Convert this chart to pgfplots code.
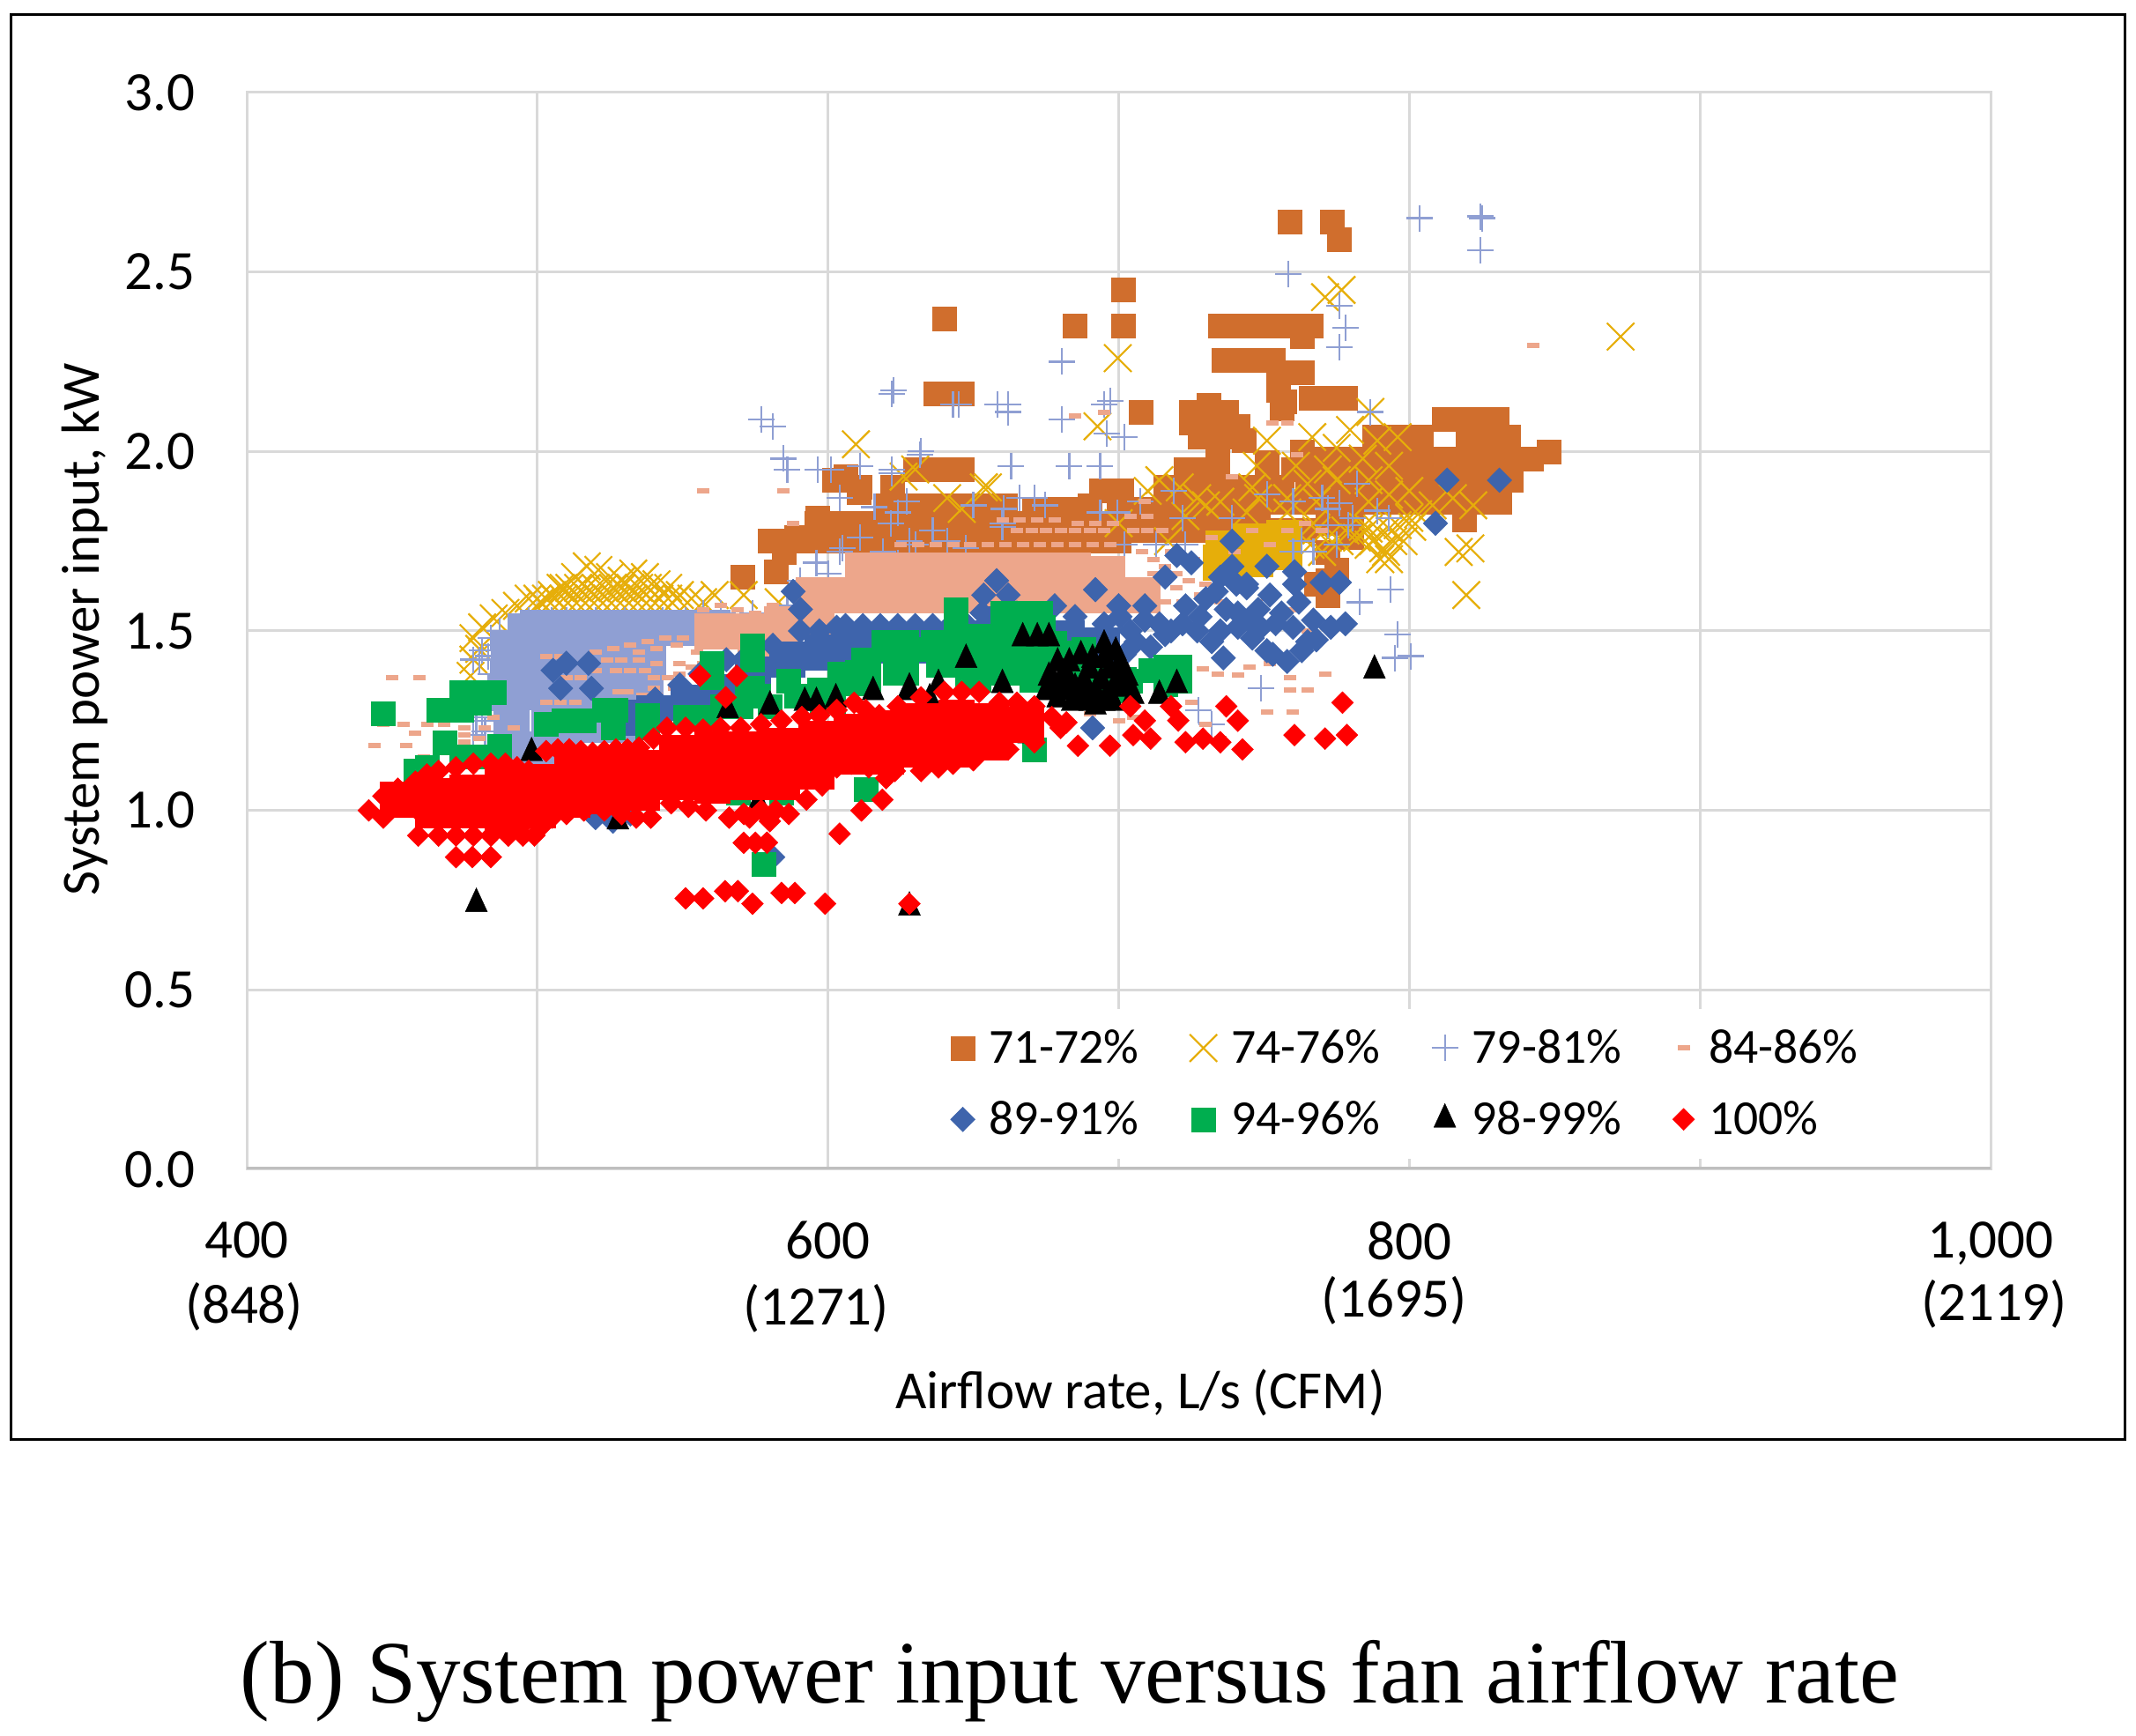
\documentclass[border=0pt]{standalone}
\usepackage{fontspec}
\setmainfont{Carlito}
\newfontfamily\capfont{Liberation Serif}
\usepackage{pgfplots}
\pgfplotsset{compat=1.18}
\definecolor{cOr}{HTML}{D06E2D}
\definecolor{cYe}{HTML}{E6AE0A}
\definecolor{cPe}{HTML}{8F9FD3}
\definecolor{cPc}{HTML}{EDA68B}
\definecolor{cBl}{HTML}{3E64AC}
\definecolor{cGr}{HTML}{00AE4F}
\definecolor{cGrid}{HTML}{D9D9D9}
\pgfplotsset{
  pt/.style={only marks, legend image code/.code={\draw[##1] plot coordinates {(0.1cm,0cm)};}},
  core/.style={only marks, forget plot, mark=square*, mark size=10bp, mark options={draw=#1, fill=#1, line width=0.2bp}},
}
\begin{document}
\begin{tikzpicture}
\path[use as bounding box] (0,0) rectangle (1212bp,985bp);
\begin{axis}[
  at={(140bp,321.5bp)}, anchor=south west,
  scale only axis, width=989.5bp, height=611bp,
  xmin=400, xmax=1000, ymin=0, ymax=3,
  xtick={400,500,600,700,800,900,1000},
  xticklabels={400,,600,,800,,{1,000}},
  ytick={0,0.5,1,1.5,2,2.5,3},
  yticklabels={0.0,0.5,1.0,1.5,2.0,2.5,3.0},
  major tick length=0pt,
  tick label style={font=\fontsize{31.5bp}{33bp}\selectfont, inner sep=0pt},
  yticklabel style={xshift=-29bp},
  xticklabel style={yshift=-29.5bp},
  grid=major, grid style={cGrid, line width=1.5bp},
  axis line style={cGrid, line width=1.5bp},
  legend columns=4,
  legend cell align=left,
  legend style={at={(0.3933,0.0097)}, anchor=south west, fill=white, draw=none,
    font=\fontsize{27.8bp}{29bp}\selectfont, inner sep=10bp, row sep=16bp,
    /tikz/every even column/.style={column sep=27bp},
    /tikz/every odd column/.append style={column sep=6bp}},
]
% 71-72%
\addplot[pt, mark=square*, mark size=6.75bp, mark options={draw=cOr, fill=cOr, line width=0.2bp}] coordinates {
(758.8,2.64)(773.4,2.64)(775.8,2.59)(701.7,2.45)(701.7,2.35)(684.9,2.35)(640,2.37)
(735,2.35)(741,2.35)(747,2.35)(753,2.35)(759,2.35)(766,2.35)(763,2.32)
(736,2.255)(742,2.255)(748,2.255)(753,2.255)(755,2.22)(763,2.22)(755,2.17)(756,2.12)(757,2.14)
(766,2.15)(772,2.15)(778,2.15)(707.5,2.11)(637,2.16)(642,2.16)(646,2.16)
(725,2.11)(731,2.13)(737,2.11)(725,2.08)(733,2.08)(741,2.07)(728,2.04)(735,2.04)(743,2.03)(734,2.00)(734,1.96)(734,1.92)(745,1.90)
(751,1.97)(763,2.0)(760,1.95)(768,1.95)
(812,2.09)(820,2.09)(825,2.09)(830,2.09)
(788,2.04)(796,2.04)(804,2.04)(820,2.04)(828,2.04)(834,2.04)
(770,1.98)(778,1.98)(786,1.98)(794,1.98)(802,1.98)(810,1.98)(818,1.98)(826,1.98)(834,1.98)(842,1.98)
(765,1.92)(773,1.92)(781,1.92)(789,1.92)(797,1.92)(805,1.92)(813,1.92)(821,1.92)(829,1.92)(835,1.92)
(755,1.86)(763,1.86)(771,1.86)(779,1.86)(787,1.86)(795,1.86)(803,1.86)(811,1.86)(819,1.86)(827,1.86)(831,1.86)
(819,1.81)(848,2.0)(835,1.95)
(723,1.95)(731,1.95)(716,1.90)(724,1.90)(732,1.90)(740,1.90)(748,1.90)(756,1.90)
(700,1.84)(708,1.84)(716,1.84)(724,1.84)(732,1.84)(740,1.84)(748,1.84)
(700,1.78)(708,1.78)(716,1.78)(724,1.78)(732,1.78)(740,1.78)(748,1.78)(756,1.78)(764,1.78)
(697,1.89)(694,1.89)(701,1.89)(690,1.85)(684,1.84)(676,1.84)(671,1.84)(661,1.85)
(600,1.80)(608,1.80)(616,1.80)(624,1.80)(632,1.80)(640,1.80)(648,1.80)(656,1.80)(664,1.80)(672,1.80)(680,1.80)(688,1.80)(696,1.80)
(580,1.75)(588,1.75)(596,1.75)(604,1.75)(612,1.75)(620,1.75)(628,1.75)(636,1.75)(644,1.75)(652,1.75)(660,1.75)(668,1.75)(676,1.75)(684,1.75)(692,1.75)(700,1.75)
(620,1.85)(628,1.85)(636,1.85)(644,1.85)(652,1.85)(660,1.85)
(630,1.95)(636,1.95)(642,1.95)(646,1.95)(622,1.89)
(596,1.80)(606,1.93)(602,1.92)(611,1.90)(610.5,1.885)(622,1.90)(596.4,1.815)(589,1.76)(584.7,1.72)(582,1.665)(570.6,1.65)
(775,1.67)(772,1.60)(768,1.63)(772,1.64)(772,1.72)(780,1.76)(772,1.80)(780,1.80)};
\addlegendentry{71-72\%}
% 74-76%
\addplot[core=cYe] coordinates {(735,1.69)(747,1.70)(757,1.72)(745,1.75)(736,1.73)(757,1.76)};
\addplot[pt, mark=x, mark size=11bp, mark options={cYe, line width=1.1bp}] coordinates {
(872.7,2.32)(699.7,2.26)(771,2.43)(776.7,2.45)(786.6,2.11)(819.6,1.60)(817,1.72)(821,1.73)(790,1.70)(792,1.72)(655,1.90)(692.7,2.07)(609.6,2.02)(653.6,1.90)
(751,2.03)(766.6,2.04)(779.6,2.06)(789,2.03)(796,2.04)(775,2.01)(784,1.98)(772,1.95)(761,1.96)(747.5,1.96)(793,1.96)(786,1.92)(775,1.92)(765,1.91)(746,1.90)(735,1.86)(727,1.87)(721,1.90)(800,1.89)(793,1.88)(786,1.86)(815,1.87)(822,1.85)(808,1.85)(768,1.86)(758,1.87)(748,1.87)(744,1.83)(758,1.83)(767,1.80)(784,1.79)(801,1.79)(798,1.75)(791,1.73)(786,1.74)(793,1.70)(730,1.85)(723,1.82)(714,1.92)(710,1.89)
(786,1.785)(789,1.785)(793,1.785)(796,1.795)(800,1.815)(803,1.825)(787.5,1.75)(794.5,1.75)
(772,1.76)(778,1.78)(770,1.72)(776,1.75)(782,1.76)(766,1.74)(768,1.78)
(478,1.48)(481,1.51)(485,1.535)(489,1.55)(493,1.57)(497,1.59)(501,1.58)(505,1.60)(509,1.62)(513,1.65)(517,1.68)(521,1.67)(525,1.65)(529,1.64)(533,1.66)(537,1.65)(541,1.63)(545,1.62)(549,1.60)(553,1.59)(557,1.58)(561,1.60)(571,1.60)(583,1.58)(597,1.60)
(500,1.59)(503,1.59)(506,1.59)(509,1.59)(512,1.59)(515,1.59)(518,1.59)(521,1.59)(524,1.59)(527,1.59)(530,1.59)(533,1.59)(536,1.59)(539,1.59)(542,1.59)(545,1.59)(548,1.59)
(508,1.62)(511,1.62)(514,1.62)(517,1.62)(520,1.62)(523,1.62)(526,1.62)(529,1.62)(532,1.62)(535,1.62)(538,1.62)
(477,1.375)(478,1.42)(480,1.45)(630,1.95)(626,1.93)(641,1.87)(646,1.84)(700,1.80)(717,1.75)};
\addlegendentry{74-76\%}
% 79-81%
\addplot[core=cPe] coordinates {(500,1.51)(512,1.51)(524,1.51)(536,1.51)(548,1.51)(560,1.51)(496,1.50)
(490,1.45)(502,1.42)(514,1.42)(526,1.42)(538,1.42)(490,1.38)(489,1.33)(501,1.33)(513,1.33)(525,1.33)(537,1.33)
(491,1.24)(504,1.24)(516,1.24)(528,1.24)(497,1.17)(509,1.17)};
\addplot[pt, mark=+, mark size=7.5bp, mark options={cPe, line width=1.1bp}] coordinates {
(803.5,2.65)(824.5,2.655)(825,2.65)(824.5,2.56)(758.4,2.495)(776,2.405)(778,2.345)(776,2.29)(680.5,2.25)(786.6,2.11)(622.6,2.17)(645,2.13)(643,2.13)(658.4,2.13)(662,2.13)(662,2.11)(697,2.14)(695,2.13)(680.5,2.09)(696,2.05)(702,2.04)(632,2.00)(663,1.96)(683,1.96)(693.6,1.96)(622,1.94)
(577,2.09)(581,2.07)(584.6,1.98)(586,1.95)(596.5,1.95)(601,1.95)(611,1.96)(622,1.95)(631.6,1.99)(622,2.16)(604,1.87)
(793.6,1.615)(783,1.58)(796,1.49)(795,1.425)(800.5,1.43)(749,1.34)(727.5,1.28)(732,1.24)
(604,1.72)(611,1.76)(616,1.845)(627,1.86)(621.6,1.80)(628,1.75)(596,1.69)(600,1.66)(590.5,1.64)(605,1.73)(619,1.72)(624,1.69)(611,1.68)
(624,1.83)(630,1.74)(636,1.78)(641,1.75)(647.5,1.73)(650,1.85)(660,1.80)(660.5,1.84)(666,1.87)(671,1.87)(674.6,1.85)(693.6,1.83)(699.6,1.83)(707.5,1.86)(719,1.89)(722,1.815)(702,1.74)(713,1.74)(723,1.74)(739,1.815)(751,1.88)(760,1.86)(770,1.87)(772,1.84)(772,1.795)(776,1.855)(782,1.91)(789,1.835)(793,1.815)(779,1.795)(760,1.72)(763,1.75)(775,1.74)(767,1.72)(780.5,1.815)(660,1.79)
(478,1.42)(480,1.42)(481,1.445)(479,1.25)(481,1.25)(478,1.21)(482,1.22)(479,1.26)
(484,1.48)(487,1.50)(483,1.43)(484,1.38)(484,1.33)(486,1.28)(487,1.22)(486,1.46)(485,1.36)(487,1.31)
(497,1.53)(505,1.53)(510,1.53)(520,1.53)(530,1.53)(543,1.53)(551,1.53)(557,1.55)(563,1.55)(568,1.53)(574,1.55)(580,1.53)(586,1.57)(592,1.60)};
\addlegendentry{79-81\%}
% 84-86%
\addplot[core=cPc] coordinates {(612,1.67)(624,1.67)(636,1.67)(648,1.67)(660,1.67)(672,1.67)(684,1.67)(696,1.66)
(605,1.60)(617,1.60)(629,1.60)(641,1.60)(653,1.60)(665,1.60)(677,1.60)(689,1.60)(701,1.60)(708,1.60)
(595,1.60)(560,1.50)(572,1.50)(584,1.52)(596,1.54)(575,1.45)};
\addplot[pt, mark=-, mark size=3.5bp, mark options={cPc, line width=3bp}] coordinates {
(450,1.37)(459.5,1.37)(447,1.24)(454,1.24)(462,1.24)(468,1.24)(458,1.215)(444,1.18)(455,1.18)(461,1.15)(557,1.89)(584.5,1.89)(588,1.80)
(503,1.43)(508,1.43)(535,1.44)(541,1.45)(548,1.46)(524,1.42)(529,1.42)(535,1.42)(541,1.41)(549,1.41)(527,1.39)(532,1.39)(540,1.37)(545,1.37)(528,1.33)(531,1.33)(536,1.32)(541,1.32)(515,1.37)(510,1.37)(540,1.34)(553,1.40)(557,1.41)(503,1.30)(508,1.30)(513,1.30)
(520,1.44)(526,1.45)(532,1.46)(538,1.47)(544,1.48)(550,1.48)(520,1.39)(537,1.39)(549,1.38)(555,1.44)(520,1.34)(547,1.34)
(485,1.26)(492,1.23)(482,1.23)(475,1.21)(480,1.2)(475,1.19)(475,1.23)
(557,1.56)(563,1.57)(569,1.56)(575,1.55)(581,1.57)(590,1.58)
(625,1.74)(631,1.74)(637,1.74)(643,1.74)(649,1.74)(655,1.74)(661,1.74)(667,1.74)(673,1.74)(679,1.74)(685,1.74)(691,1.74)(697,1.74)
(665,1.78)(670,1.78)(675,1.78)(680,1.78)(685,1.78)(690,1.78)(695,1.78)(705,1.78)(710,1.78)(715,1.78)
(660,1.81)(666,1.81)(672,1.81)(678,1.81)(686,1.80)(692,1.80)(698,1.80)(704,1.82)(710,1.82)
(709,1.86)(739,1.93)(761.4,1.99)(753,2.08)(758,2.08)(685,2.10)(695,2.11)(842.6,2.295)
(729,1.395)(734,1.38)(741,1.376)(759,1.37)(759,1.335)(765,1.335)(771,1.38)(751,1.275)(760,1.275)(745,1.40)(760,1.56)(751,1.59)(765,1.50)(752,1.41)
(720,1.72)(726,1.70)(732,1.76)(740,1.72)(746,1.78)(752,1.74)(758,1.78)(764,1.80)(770,1.78)
(712,1.70)(716,1.68)(720,1.66)(724,1.64)(720,1.62)(716,1.58)(722,1.58)(728,1.60)(730,1.63)(712,1.66)(718,1.72)(708,1.72)
(720,1.36)(725,1.30)(730,1.24)(735,1.20)(690,1.27)(700,1.25)(705,1.26)(735,1.58)(745,1.55)};
\addlegendentry{84-86\%}
% 89-91%
\addplot[core=cBl] coordinates {(610,1.46)(622,1.46)(634,1.46)(646,1.48)(658,1.52)(670,1.50)(682,1.48)(694,1.46)(598,1.44)(586,1.42)(574,1.38)(562,1.33)(552,1.30)(540,1.27)(530,1.26)};
\addplot[pt, mark=diamond*, mark size=7bp, mark options={draw=cBl, fill=cBl, line width=0.2bp, xscale=1.33}] coordinates {
(505.4,1.39)(510,1.41)(517.6,1.41)(508,1.34)(518.6,1.34)(549,1.35)(540.5,1.31)(556,1.38)(565,1.42)(572,1.43)(581,1.46)(588,1.61)(590.5,1.56)(590.5,1.50)(597,1.50)(603,1.51)
(606,1.515)(612,1.515)(618,1.515)(624,1.515)(630,1.515)(636,1.515)(642,1.515)(648,1.515)
(658,1.64)(653.6,1.60)(662,1.60)(653,1.55)(665,1.55)(678,1.57)(692,1.615)(685,1.54)(695,1.52)(700,1.57)(709,1.57)(709,1.53)(714,1.52)(706,1.47)(711,1.455)(702,1.435)(700.5,1.54)(693.6,1.48)
(723,1.57)(730,1.59)(728,1.54)(740.5,1.63)(744,1.63)(733.6,1.61)(745,1.53)(754,1.52)(749,1.51)(732,1.47)(736,1.425)(746,1.48)(753,1.435)(758,1.415)(751,1.445)(763,1.445)(768,1.475)(773,1.51)(778,1.52)(765,1.47)(756,1.55)
(720,1.71)(725,1.69)(716,1.65)(739,1.75)(739,1.68)(751,1.68)(760.5,1.665)(760.5,1.63)(770,1.635)(776,1.635)(744,1.62)(737,1.56)(718,1.50)
(735,1.50)(741,1.55)(741,1.51)(748,1.56)(760,1.51)(722,1.52)(716,1.49)(704,1.50)(727,1.50)(752,1.60)(735,1.65)(762,1.58)(767,1.53)
(813,1.92)(831,1.92)(809,1.80)(691,1.23)(581,.87)(520,.98)(526,.97)(532,.99)};
\addlegendentry{89-91\%}
% 94-96%
\addplot[core=cGr] coordinates {(640,1.42)(652,1.47)(664,1.47)(676,1.45)(660,1.40)(672,1.38)(650,1.38)(690,1.38)(700,1.35)(625,1.40)(612,1.37)(600,1.32)};
\addplot[pt, mark=square*, mark size=6.75bp, mark options={draw=cGr, fill=cGr, line width=0.2bp}] coordinates {
(447,1.27)(466,1.28)(474,1.33)(480,1.33)(485,1.33)(480,1.30)(474,1.28)(468,1.19)(487,1.18)(474,1.15)(480,1.15)(486,1.14)(458,1.11)(462,1.12)
(503,1.24)(509,1.25)(516,1.25)(523,1.28)(527,1.28)(526,1.23)(538,1.265)(538,1.23)(551,1.26)(558,1.26)(560,1.41)(574,1.46)(572,1.335)(576,1.32)(586.5,1.36)(589,1.32)(604,1.38)(612,1.42)(620,1.45)(630,1.45)(597,1.335)(563.5,1.29)(570,1.29)(580,1.29)(574,1.42)(574,1.34)(560,1.37)
(619,1.47)(627,1.47)(636,1.47)(644,1.56)(644,1.51)(644,1.46)(660,1.55)(665,1.55)(673,1.55)(674,1.51)(660,1.51)(684,1.44)(688,1.45)(716,1.40)(721,1.40)(711,1.39)(704,1.36)(716,1.35)(721,1.36)(696,1.38)
(578,.85)(613,1.06)(568,1.08)(582,1.07)(671,1.17)(569,1.05)(584,1.05)};
\addlegendentry{94-96\%}
% 98-99%
\addplot[pt, mark=triangle*, mark size=9bp, mark options={draw=black, fill=black, line width=0.2bp, xscale=.8}] coordinates {
(695,1.46)(681,1.38)(690,1.39)(697,1.39)(700.5,1.41)(678,1.35)(685,1.34)(692,1.33)(699,1.34)(688.5,1.31)(695,1.30)(692,1.29)(683,1.36)(688,1.36)(694,1.36)(686,1.32)(697,1.32)(681,1.33)
(676,1.37)(679,1.41)(683,1.41)(687,1.43)(691,1.42)(695,1.42)(699,1.44)(700,1.37)(703,1.37)(703,1.34)(690,1.30)(684,1.30)(698,1.30)(679,1.31)(675,1.33)
(647.5,1.42)(667,1.48)(672,1.48)(676,1.48)(705,1.32)(714,1.32)(720,1.35)(788,1.39)(669,1.21)(479,.74)(593,1.09)(576,1.02)(527.7,.97)(628,.73)(615.5,1.33)(628,1.34)(602.7,1.31)(596,1.30)(592,1.30)(565.5,1.28)(580,1.29)(498,1.16)(628,1.33)(638,1.35)(660,1.35)(635,1.31)};
\addlegendentry{98-99\%}
% 100%
\addplot[core=red] coordinates {(452,1.03)(464,1.04)(464,1.00)(476,1.05)(476,1.0)(488,1.07)(488,.98)(500,1.08)(500,1.0)(512,1.11)(512,1.03)(524,1.11)(524,1.04)(536,1.12)(536,1.05)(548,1.16)(548,1.08)(560,1.17)(560,1.07)(572,1.17)(572,1.08)(584,1.18)(584,1.08)(596,1.2)(596,1.11)(608,1.22)(608,1.15)(620,1.23)(620,1.15)(632,1.25)(632,1.17)(644,1.26)(644,1.17)(656,1.25)(656,1.19)(668,1.24)};
\addplot[pt, mark=diamond*, mark size=6.25bp, mark options={draw=red, fill=red, line width=0.2bp, xscale=1.33}] coordinates {
(447,1.04)(452,1.06)(458,1.08)(462,1.10)(466,1.11)(472,1.12)(478,1.13)(484,1.13)(489,1.13)(493,1.12)(497,1.11)(503,1.165)(507,1.17)(511,1.17)(515,1.165)(519,1.16)(523,1.165)(527,1.17)(531,1.17)(535,1.175)(540,1.20)(544.6,1.23)(551,1.23)(557,1.225)(563,1.23)(570,1.23)(577,1.24)(584,1.25)(591,1.26)(597,1.265)(603,1.28)(609,1.30)(613,1.28)(617.6,1.265)(624,1.29)(632,1.315)(640,1.33)(646,1.33)(652,1.33)(659,1.30)(665,1.30)(671,1.29)(677,1.26)(680,1.23)
(442,1.0)(447,.98)(454,1.02)(505,.98)(510,.99)(516,1.0)(523,1.0)(529,.99)(534,.98)(539,.98)(546,1.02)(552,1.01)(558,1.0)(566,.98)(571,.99)(577,1.0)(582,1.0)(586.5,.99)(592.6,1.03)(603,1.12)(608,1.13)(614,1.12)(623,1.11)(632,1.11)(620,1.09)(638,1.12)(643,1.13)(650,1.14)(662,1.17)(671,1.19)(598,1.07)
(459,.93)(466,.93)(472,.93)(478,.93)(484,.93)(490,.93)(495,.93)(499,.93)(472,.87)(477.6,.87)(484,.87)
(460,.99)(466,.98)(472,.98)(478,.97)(484,.97)(490,.96)(496,.97)(502,.96)
(551,.755)(557,.755)(564.6,.775)(569,.775)(574,.74)(584,.77)(588.6,.77)(599,.74)(628,.74)(604,.935)(611.5,1.0)(618.7,1.03)(575,.91)(579,.91)(571,.91)(556,1.375)(568.6,1.375)(564.8,1.315)
(704,1.29)(718,1.29)(737,1.29)(741,1.25)(777,1.30)(760.5,1.21)(771,1.20)(778.5,1.21)(720.5,1.25)(709,1.25)(697,1.18)(705,1.21)(711,1.20)(723,1.19)(742.6,1.17)(682,1.245)(686,1.18)(735,1.19)(729,1.20)(580,.97)(573,.98)};
\addlegendentry{100\%}
\draw[color=black!25, line width=2.5bp] (axis cs:400,0) -- (axis cs:1000,0);
\end{axis}
\draw[black, line width=1.5bp] (6bp,168bp) rectangle (1205.5bp,976.5bp);
\node[font=\fontsize{31.5bp}{33bp}\selectfont] at (138.5bp,243.5bp) {(848)};
\node[font=\fontsize{31.5bp}{33bp}\selectfont] at (463bp,242.5bp) {(1271)};
\node[font=\fontsize{31.5bp}{33bp}\selectfont] at (791bp,247bp) {(1695)};
\node[font=\fontsize{31.5bp}{33bp}\selectfont] at (1131.5bp,245bp) {(2119)};
\node[font=\fontsize{30.5bp}{32bp}\selectfont] at (647bp,195bp) {Airflow rate, L/s (CFM)};
\node[font=\fontsize{30.5bp}{32bp}\selectfont, rotate=90] at (48bp,628bp) {System power input, kW};
\node[font=\capfont\fontsize{50.5bp}{52bp}\selectfont] at (607bp,31bp) {(b) System power input versus fan airflow rate};
\end{tikzpicture}
\end{document}
